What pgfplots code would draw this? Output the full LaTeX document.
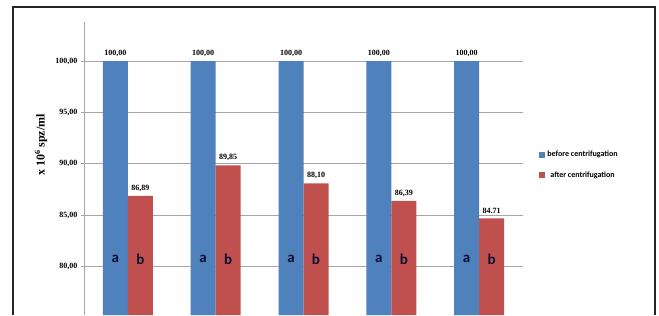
\documentclass[border=0pt]{standalone}
\usepackage{fontspec}
\setmainfont{Liberation Serif}
\newfontfamily\calfont{Carlito}
\usepackage{pgfplots}
\pgfplotsset{compat=1.18}
\usetikzlibrary{calc}
\definecolor{xblue}{HTML}{4F81BD}
\definecolor{xred}{HTML}{C0504D}
\definecolor{gridc}{HTML}{A6A6A6}
\definecolor{navy}{RGB}{12,16,48}
\begin{document}
\begin{tikzpicture}
\begin{axis}[name=ax, scale only axis, width=439pt, height=293pt,
  ymin=75.3, ymax=103.8, xmin=-0.5, xmax=4.5,
  ybar=0pt, bar width=25pt,
  axis x line=none, axis y line*=left,
  y axis line style={gridc, line width=0.8pt, -},
  ytick={80,85,90,95,100}, ymajorgrids, grid style={gridc, line width=0.8pt},
  major tick length=3pt, tick align=outside, y tick style={gridc, line width=0.8pt},
  y tick label style={font=\bfseries\fontsize{8}{8}\selectfont,
    /pgf/number format/.cd, fixed, fixed zerofill, precision=2, use comma, assume math mode=true},
  xtick=\empty,
  point meta=explicit symbolic,
  nodes near coords,
  nodes near coords style={font=\bfseries\fontsize{8}{8}\selectfont, text=black, yshift=1pt},
  ylabel={x 10\textsuperscript{6} spz/ml},
  ylabel style={at={(axis description cs:-0.098,0.58)}, anchor=center, font=\bfseries\fontsize{12}{12}\selectfont},
  legend style={at={(axis description cs:1.03,0.512)}, anchor=west, draw=none, fill=none,
    font=\calfont\bfseries\fontsize{8}{8}\selectfont, row sep=9pt},
  legend image code/.code={\fill[#1] (0pt,-3pt) rectangle (6pt,3pt);},
]
\addplot[fill=xblue, draw=none] table[x=x, y=y, meta=l] {
x y l
0 100 100,00
1 100 100,00
2 100 100,00
3 100 100,00
4 100 100,00
};
\addplot[fill=xred, draw=none] table[x=x, y=y, meta=l] {
x y l
0 86.89 86,89
1 89.85 89,85
2 88.10 88,10
3 86.39 86,39
4 84.71 84.71
};
\legend{before centrifugation, after centrifugation}
\pgfplotsinvokeforeach{0,1,2,3,4}{
  \node[font=\calfont\bfseries\fontsize{15}{15}\selectfont, text=navy, xshift=-12.5pt] at (axis cs:#1,80.75) {a};
  \node[font=\calfont\bfseries\fontsize{15}{15}\selectfont, text=navy, xshift=12.5pt] at (axis cs:#1,80.75) {b};
}
\end{axis}
\pgfresetboundingbox
\path[use as bounding box] ($(ax.south west)+(-84pt,0)$) rectangle ($(ax.north east)+(136pt,22pt)$);
\draw[line width=1.3pt, black!85] ($(ax.south west)+(-71pt,0)$) |- ($(ax.north east)+(132pt,15pt)$) -- ($(ax.south east)+(132pt,0)$);
\end{tikzpicture}
\end{document}
